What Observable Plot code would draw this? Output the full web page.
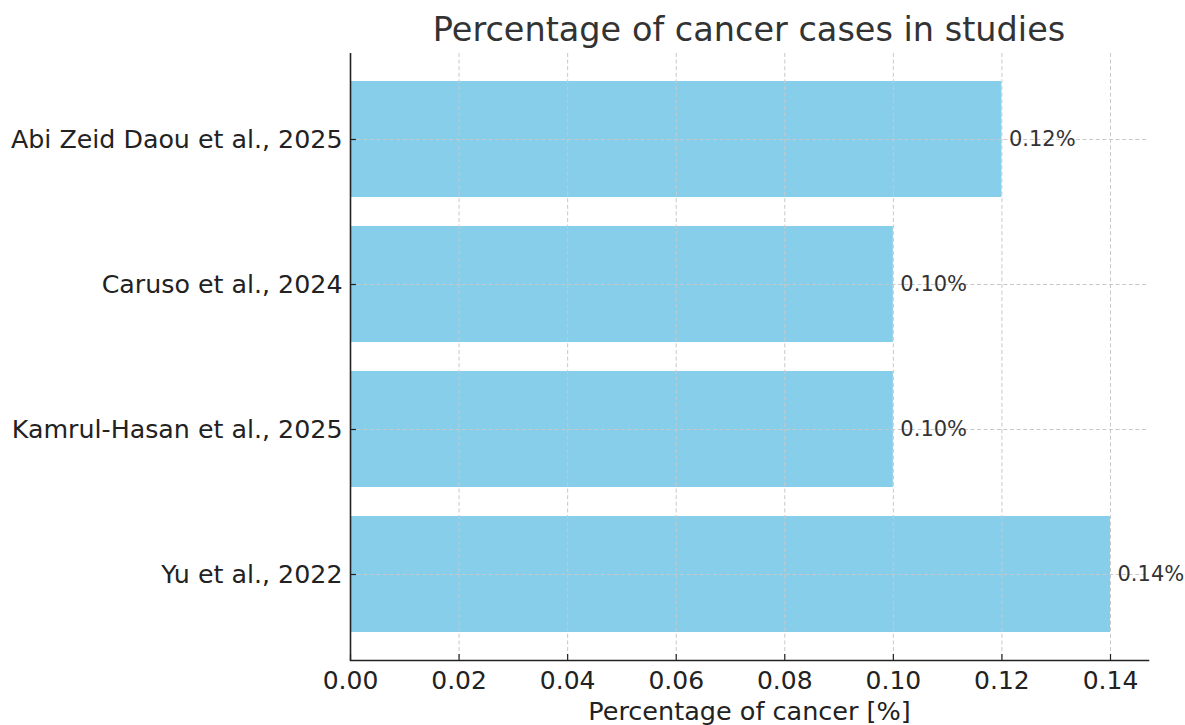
<!DOCTYPE html>
<html>
<head>
<meta charset="utf-8">
<script src="https://cdn.jsdelivr.net/npm/d3@7"></script>
<script src="https://cdn.jsdelivr.net/npm/@observablehq/plot@0.6"></script>
<style>
  body { margin: 0; background: #fff; font-family: "DejaVu Sans", sans-serif; }
  #title { height: 45px; margin-left: 350px; width: 798px; text-align: center; font-size: 33.5px; line-height: 60px; color: #333; white-space: nowrap; }
  #chart svg { display: block; }
</style>
</head>
<body>
<div id="title">Percentage of cancer cases in studies</div>
<div id="chart"></div>
<script>
const studies = ["Abi Zeid Daou et al., 2025", "Caruso et al., 2024", "Kamrul-Hasan et al., 2025", "Yu et al., 2022"];
const percentages = [0.12, 0.10, 0.10, 0.14];
const xTicks = [0, 0.02, 0.04, 0.06, 0.08, 0.10, 0.12, 0.14];
const xLabel = "Percentage of cancer [%]";

const data = studies.map((s, i) => ({study: s, value: percentages[i]}));

const W = 1185, H = 680, mL = 350, mR = 37, mT = 8, mB = 65;
const plotW = W - mL - mR, plotH = H - mT - mB;
const gridStyle = {stroke: "#c8c8c8", strokeWidth: 1, strokeDasharray: "4,2.6"};

const chart = Plot.plot({
  width: W, height: H,
  marginLeft: mL, marginRight: mR, marginTop: mT, marginBottom: mB,
  style: {fontFamily: "DejaVu Sans, sans-serif", fontSize: "25px", color: "#222", background: "#fff"},
  x: {domain: [0, 0.147], ticks: xTicks},
  y: {domain: studies, paddingInner: 0.2, paddingOuter: 0.186},
  marks: [
    Plot.barX(data, {x: "value", y: "study", fill: "#87CEEB"}),
    Plot.ruleX(xTicks, {...gridStyle}),
    Plot.ruleY(studies, {y: d => d, ...gridStyle}),
    Plot.text(data, {x: "value", y: "study", text: d => d.value.toFixed(2) + "%", textAnchor: "start", dx: 7, fontSize: 21, fill: "#333"}),
    Plot.ruleX(xTicks, {insetTop: plotH - 6, stroke: "#222", strokeWidth: 1.2}),
    Plot.ruleY(studies, {y: d => d, insetRight: plotW - 6, stroke: "#222", strokeWidth: 1.2}),
    Plot.axisX({ticks: xTicks, tickSize: 0, tickPadding: 11, tickFormat: d3.format(".2f"), label: null, fontSize: 25, fill: "#222"}),
    Plot.axisY({tickSize: 0, tickPadding: 8, label: null, fontSize: 25.3, fill: "#222"}),
    Plot.ruleX([0], {stroke: "#222", strokeWidth: 1.6}),
    Plot.frame({anchor: "bottom", stroke: "#222", strokeWidth: 1.6}),
    Plot.text([xLabel], {frameAnchor: "bottom", dy: 59, fontSize: 25.5, fill: "#222"})
  ]
});
document.getElementById("chart").appendChild(chart);
</script>
</body>
</html>
